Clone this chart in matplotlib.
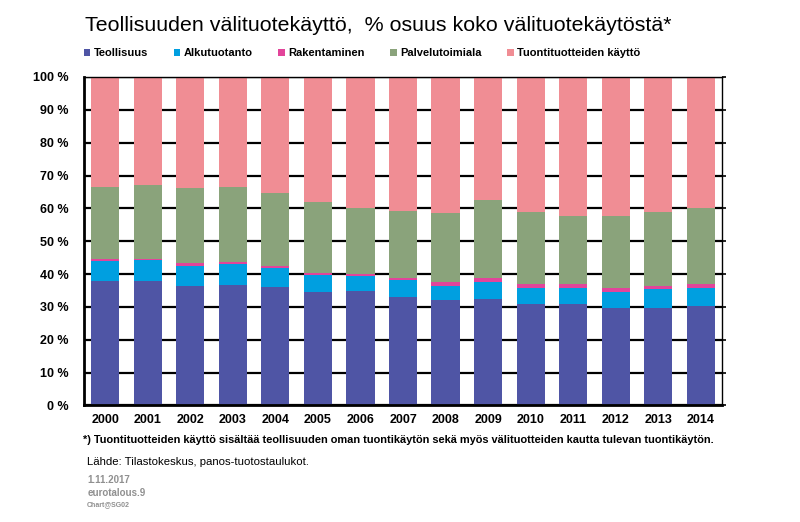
import matplotlib
matplotlib.use("Agg")
import matplotlib.pyplot as plt
import numpy as np

plt.rcParams['font.family'] = ['Liberation Sans', 'DejaVu Sans']

# data (% of total intermediate use)
years = ['2000', '2001', '2002', '2003', '2004', '2005', '2006', '2007',
         '2008', '2009', '2010', '2011', '2012', '2013', '2014']
teollisuus = [37.8, 38.0, 36.4, 36.6, 36.2, 34.4, 35.0, 32.9, 32.0, 32.4, 30.8, 30.9, 29.6, 29.6, 30.2]
alkutuotanto = [6.2, 6.2, 6.2, 6.6, 5.8, 5.3, 4.5, 5.2, 4.5, 5.1, 5.1, 4.9, 5.1, 5.8, 5.7]
rakentaminen = [0.6, 0.5, 0.8, 0.5, 0.6, 0.6, 0.5, 0.6, 1.1, 1.3, 1.2, 1.1, 1.0, 1.0, 1.1]
palvelut = [21.9, 22.4, 22.9, 22.8, 22.1, 21.7, 20.2, 20.4, 20.9, 23.8, 21.7, 20.9, 22.1, 22.6, 23.2]
tuonti = [33.5, 32.9, 33.7, 33.5, 35.3, 38.0, 39.8, 40.9, 41.5, 37.4, 41.2, 42.2, 42.2, 41.0, 39.8]

series = [
    ('Teollisuus', teollisuus, '#4f55a5'),
    ('Alkutuotanto', alkutuotanto, '#009fe0'),
    ('Rakentaminen', rakentaminen, '#e2449a'),
    ('Palvelutoimiala', palvelut, '#8aa37b'),
    ('Tuontituotteiden käyttö', tuonti, '#f08d94'),
]

fig = plt.figure(figsize=(8, 5.22), dpi=100)
ax = fig.add_axes([0.105, 0.2232, 0.7975, 0.6293])

x = np.arange(len(years))
bottom = np.zeros(len(years))
for name, vals, col in series:
    ax.bar(x, vals, 0.66, bottom=bottom, color=col, label=name, zorder=2)
    bottom += np.array(vals)

ax.set_xlim(-0.5, len(years) - 0.5)
ax.set_ylim(0, 100)
ax.set_yticks(range(0, 101, 10))
ax.set_yticklabels([f'{v} %' for v in range(0, 101, 10)], fontsize=9, fontweight='bold')
ax.set_xticks(x)
ax.set_xticklabels(years, fontsize=9, fontweight='bold')
ax.tick_params(axis='x', length=0, pad=6)
ax.tick_params(axis='y', left=False, right=True, length=3, width=1.2, pad=8)
ax.yaxis.grid(True, color='black', linewidth=1.6, zorder=0)
ax.set_axisbelow(True)

for side in ['left', 'bottom']:
    ax.spines[side].set_linewidth(2)
for side in ['top', 'right']:
    ax.spines[side].set_linewidth(1)

fig.text(0.106, 0.952, 'Teollisuuden välituotekäyttö,  % osuus koko välituotekäytöstä*',
         fontsize=15.4, ha='left', va='center')

leg = fig.legend(loc='center left', bbox_to_anchor=(0.092, 0.898), ncol=5, frameon=False,
                 handlelength=0.6, handleheight=0.6, handletextpad=0.3,
                 columnspacing=2.3, prop={'weight': 'bold', 'size': 8})

fig.text(0.104, 0.158,
         '*) Tuontituotteiden käyttö sisältää teollisuuden oman tuontikäytön sekä myös '
         'välituotteiden kautta tulevan tuontikäytön.',
         fontsize=7.9, fontweight='bold', ha='left', va='center')
fig.text(0.109, 0.115, 'Lähde: Tilastokeskus, panos-tuotostaulukot.',
         fontsize=8.2, ha='left', va='center')
fig.text(0.109, 0.081, '1.11.2017', fontsize=7, fontweight='bold', color='#909090',
         ha='left', va='center')
fig.text(0.109, 0.056, 'eurotalous.9', fontsize=7, fontweight='bold', color='#909090',
         ha='left', va='center')
fig.text(0.109, 0.034, 'Chart@SG02', fontsize=5, fontweight='bold', color='#909090',
         ha='left', va='center')

fig.savefig('out.png', dpi=100)
